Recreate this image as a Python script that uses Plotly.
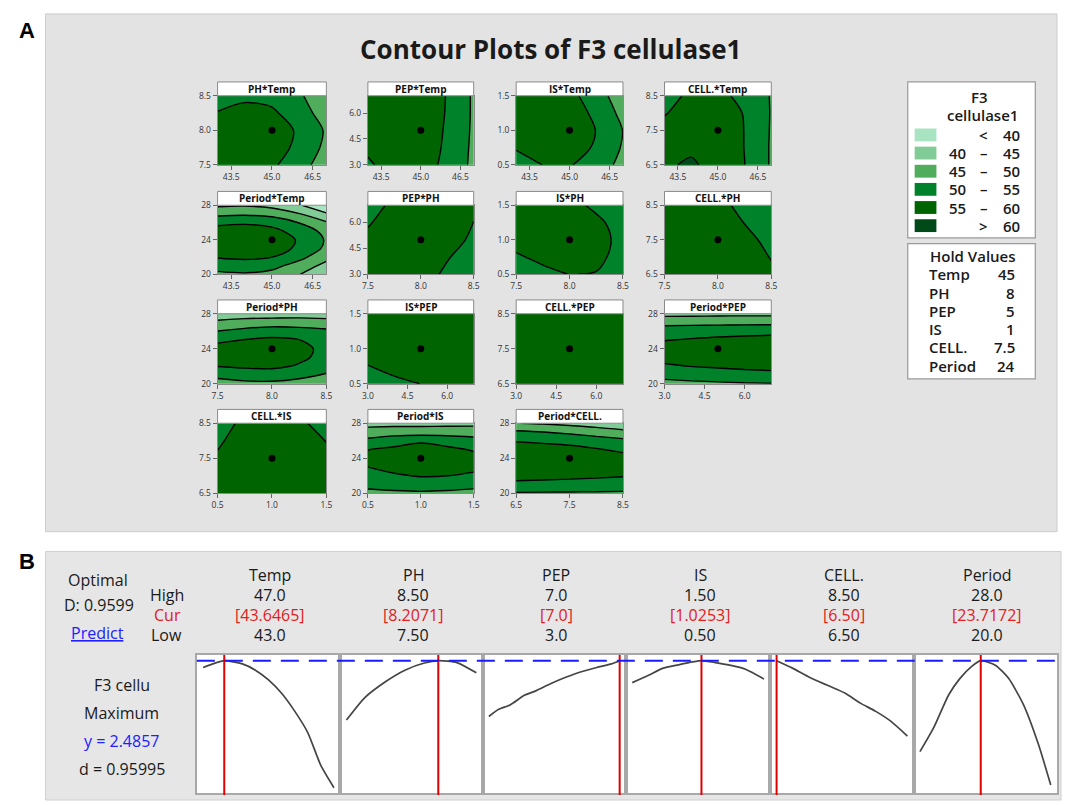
import plotly.graph_objects as go

W, H = 1067, 805

# ---------------- data: contour grids ----------------
TEMP_GRID = [43, 44, 45, 46, 47]
PH_GRID = [7.5, 7.75, 8.0, 8.25, 8.5]
PEP_GRID = [3, 4, 5, 6, 7]
IS_GRID = [0.5, 0.75, 1.0, 1.25, 1.5]
CELL_GRID = [6.5, 7.0, 7.5, 8.0, 8.5]
PERIOD_GRID = [20, 21, 22, 23, 24, 25, 26, 27, 28]

# rows = y-factor levels (low -> high), columns = x-factor levels
Z_PH_TEMP = [[57, 57.5, 55.8, 52.2, 47.2],
             [58.5, 58.5, 57.3, 53.8, 48.8],
             [59, 59, 58, 54.2, 49.4],
             [55.3, 56.5, 55.8, 52.5, 47.5],
             [52, 54, 53.5, 50.8, 46]]
Z_PEP_TEMP = [[54.5, 56.5, 56.8, 54.0, 48.8],
              [55.6, 57.5, 57.3, 54.3, 49.0],
              [57, 58.2, 57.6, 54.5, 49.2],
              [57.5, 58.5, 57.8, 54.7, 49.3],
              [57.5, 58.5, 57.9, 54.8, 49.3]]
Z_IS_TEMP = [[53.5, 55.05, 55.3, 53, 48.3],
             [55.3, 57, 57.2, 54.4, 49.5],
             [58, 58.3, 57.8, 54.9, 49.9],
             [57.5, 58, 57.3, 54, 48.5],
             [57, 57.5, 56.5, 52.2, 47.2]]
Z_CELL_TEMP = [[59.6, 60.4, 59, 55.05, 49.5],
               [58, 59.5, 58.5, 54.9, 49.5],
               [56.5, 58, 58, 54.9, 49.6],
               [54.7, 57, 57, 54.8, 49.7],
               [53.5, 55.8, 56.3, 53.6, 49.7]]
Z_PERIOD_TEMP = [[49, 49.5, 48.5, 45.2, 40.5],
                 [52, 52.5, 51.5, 48, 43.5],
                 [55.4, 56, 55.1, 51.5, 46.5],
                 [58, 58.5, 57.5, 54, 49],
                 [58.5, 59, 58, 54.5, 49.5],
                 [57, 57.5, 56.5, 53, 48.5],
                 [53.8, 54.3, 53.3, 49.8, 45.5],
                 [48.8, 49.2, 48.3, 45.2, 40.5],
                 [44.2, 44.5, 43.5, 40.5, 36]]
Z_PEP_PH = [[57, 57.5, 56.8, 54.2, 52],
            [56.8, 57.6, 57.3, 55.3, 53],
            [56, 57.5, 57.6, 56.3, 54.4],
            [54.6, 57, 57.8, 57, 54.95],
            [53.5, 55.8, 57.5, 57, 55.8]]
Z_IS_PH = [[51.5, 53.5, 55.1, 54.8, 52],
           [54.3, 56.3, 57, 56, 53.5],
           [57, 57.8, 57.8, 56.5, 53.8],
           [57.5, 58, 57.5, 56, 53],
           [57, 57.5, 56.5, 54, 52]]
Z_CELL_PH = [[58, 58.5, 58.5, 57.5, 55.8],
             [58, 58.5, 58, 57, 54.8],
             [58, 58, 57.5, 56, 54],
             [57.5, 57.5, 57, 54.9, 53],
             [57, 57, 56, 54, 52]]
Z_PERIOD_PH = [[48.5, 49, 49, 48, 45.5],
               [51, 52, 52.5, 51.5, 49.5],
               [55.1, 55.8, 56, 54.5, 52],
               [57, 57.8, 58, 56, 53.5],
               [57.2, 58, 58.2, 56.3, 53.8],
               [53.8, 55.2, 56, 55.1, 53],
               [50.1, 51.5, 52.5, 52, 51],
               [46, 47, 47.5, 47.5, 47],
               [42, 42.5, 42.5, 42.8, 42.5]]
Z_IS_PEP = [[52.5, 54, 55.05, 56.5, 57],
            [54.9, 56.3, 57.3, 57.8, 57.8],
            [56.5, 57.5, 58.2, 58.5, 58.3],
            [57, 57.8, 58.3, 58.3, 58],
            [57, 57.5, 58, 58, 57.5]]
Z_CELL_PEP = [[57.5, 58, 58.3, 58.5, 58.5],
              [57.3, 57.8, 58.2, 58.4, 58.4],
              [57, 57.6, 58, 58.2, 58.2],
              [56.5, 57.2, 57.7, 58, 58],
              [55.8, 56.8, 57.3, 57.6, 57.6]]
Z_PERIOD_PEP = [[48.5, 49, 49.3, 49.6, 49.8],
                [51.5, 52, 52.6, 53.1, 53.5],
                [54.3, 55.1, 55.6, 56.1, 56.5],
                [56.5, 57, 57.4, 57.7, 58],
                [57, 57.4, 57.8, 58.1, 58.3],
                [54.8, 55.4, 56, 56.4, 56.8],
                [52.5, 52.8, 53.1, 53.3, 53.5],
                [48.5, 48.6, 48.7, 48.8, 48.8],
                [43.5, 43.6, 43.7, 43.8, 43.8]]
Z_CELL_IS = [[56.5, 57.5, 58, 57.7, 56.8],
             [56, 57.3, 57.8, 57.5, 56.3],
             [55.4, 57, 57.5, 57.2, 55.8],
             [54.5, 56.5, 57.3, 56.7, 54.9],
             [53.5, 55.8, 57, 55.7, 53.5]]
Z_PERIOD_IS = [[48.8, 49.1, 49.3, 49, 48.5],
               [51.3, 52, 52.5, 52.2, 51.5],
               [53.5, 54.5, 55.3, 55.05, 54.3],
               [55.02, 56.3, 57.3, 56.8, 56],
               [55.8, 57, 58, 57.5, 56.5],
               [54.9, 56, 57, 56, 54.6],
               [51, 52.8, 54.3, 53, 51.5],
               [47.5, 47.8, 47.5, 47.8, 48],
               [43, 43.3, 43.5, 43.5, 43.5]]
Z_PERIOD_CELL = [[49.6, 49.5, 49.5, 49.4, 49.3],
                 [53.5, 53.3, 53.1, 52.8, 52.5],
                 [57, 56.6, 56.2, 55.8, 55.3],
                 [58.5, 58.1, 57.7, 57.1, 56.5],
                 [59, 58.6, 58.1, 57.5, 56.8],
                 [58, 57.3, 56.6, 55.4, 54],
                 [54.6, 54, 53.3, 52.3, 51.2],
                 [50.8, 50, 49, 47.7, 46.2],
                 [45.1, 44.5, 43.6, 42.6, 41.5]]

FACTORS = ["Temp", "PH", "PEP", "IS", "CELL.", "Period"]
GRIDS = [TEMP_GRID, PH_GRID, PEP_GRID, IS_GRID, CELL_GRID, PERIOD_GRID]
FACTOR_LOW = [43, 7.5, 3, 0.5, 6.5, 20]
FACTOR_HIGH = [47, 8.5, 7, 1.5, 8.5, 28]
HOLD_VALUES = [45, 8, 5, 1, 7.5, 24]
HOLD_TEXT = ["45", "8", "5", "1", "7.5", "24"]
TICK_VALS = [[43.5, 45.0, 46.5], [7.5, 8.0, 8.5], [3.0, 4.5, 6.0],
             [0.5, 1.0, 1.5], [6.5, 7.5, 8.5], [20, 24, 28]]
TICK_TEXT = [["43.5", "45.0", "46.5"], ["7.5", "8.0", "8.5"], ["3.0", "4.5", "6.0"],
             ["0.5", "1.0", "1.5"], ["6.5", "7.5", "8.5"], ["20", "24", "28"]]

# (title, x factor index, y factor index, z)
PANELS = [("PH*Temp", 0, 1, Z_PH_TEMP), ("PEP*Temp", 0, 2, Z_PEP_TEMP),
          ("IS*Temp", 0, 3, Z_IS_TEMP), ("CELL.*Temp", 0, 4, Z_CELL_TEMP),
          ("Period*Temp", 0, 5, Z_PERIOD_TEMP), ("PEP*PH", 1, 2, Z_PEP_PH),
          ("IS*PH", 1, 3, Z_IS_PH), ("CELL.*PH", 1, 4, Z_CELL_PH),
          ("Period*PH", 1, 5, Z_PERIOD_PH), ("IS*PEP", 2, 3, Z_IS_PEP),
          ("CELL.*PEP", 2, 4, Z_CELL_PEP), ("Period*PEP", 2, 5, Z_PERIOD_PEP),
          ("CELL.*IS", 3, 4, Z_CELL_IS), ("Period*IS", 3, 5, Z_PERIOD_IS),
          ("Period*CELL.", 4, 5, Z_PERIOD_CELL)]

LEVEL_LABELS = [("", "<", "40"), ("40", "\u2013", "45"), ("45", "\u2013", "50"),
                ("50", "\u2013", "55"), ("55", "\u2013", "60"), ("", ">", "60")]
LEVEL_COLORS = ["#a9e4c2", "#80cb96", "#4fad5c", "#00822a", "#006400", "#004a1a"]

# ---------------- data: optimization plot ----------------
HIGH_TXT = ["47.0", "8.50", "7.0", "1.50", "8.50", "28.0"]
CUR_TXT = ["[43.6465]", "[8.2071]", "[7.0]", "[1.0253]", "[6.50]", "[23.7172]"]
LOW_TXT = ["43.0", "7.50", "3.0", "0.50", "6.50", "20.0"]
CUR_VAL = [43.6465, 8.2071, 7.0, 1.0253, 6.50, 23.7172]
Y_OPT = 2.4857

CURVE_X = [
    [43.0, 43.3, 43.65, 44.2, 44.6, 45.0, 45.4, 45.8, 46.2, 46.6, 47.0],
    [7.5, 7.64, 7.8, 7.95, 8.1, 8.21, 8.35, 8.5],
    [3.0, 3.3, 3.65, 4.1, 4.45, 4.9, 5.35, 5.8, 6.3, 6.75, 7.0],
    [0.5, 0.62, 0.73, 0.85, 0.96, 1.03, 1.13, 1.24, 1.36, 1.5],
    [6.5, 6.75, 6.98, 7.26, 7.55, 7.78, 8.01, 8.24, 8.5],
    [20.0, 20.84, 21.76, 22.45, 23.13, 23.72, 24.61, 25.42, 26.33, 27.24, 28.0],
]
CURVE_Y = [
    [2.41, 2.45, 2.486, 2.45, 2.38, 2.27, 2.12, 1.92, 1.68, 1.31, 1.06],
    [1.82, 2.07, 2.25, 2.38, 2.46, 2.486, 2.465, 2.35],
    [1.86, 1.94, 1.99, 2.10, 2.15, 2.23, 2.30, 2.36, 2.41, 2.45, 2.486],
    [2.24, 2.32, 2.40, 2.44, 2.473, 2.486, 2.465, 2.436, 2.39, 2.28],
    [2.486, 2.40, 2.31, 2.215, 2.12, 2.01, 1.92, 1.81, 1.64],
    [1.465, 1.734, 2.104, 2.288, 2.417, 2.486, 2.436, 2.288, 1.993, 1.55, 1.09],
]

# ---------------- helpers ----------------
def PX(x):
    return x / W


def PY(y):
    return 1 - y / H


FONT = "Open Sans, Noto Sans, DejaVu Sans, sans-serif"
fig = go.Figure()
shapes = []
annotations = []
layout_axes = {}


def text(x, y, s, size, color="#1a1a1a", xanchor="center", weight=None, family=FONT):
    f = dict(size=size, color=color, family=family)
    if weight:
        f["weight"] = weight
    annotations.append(dict(x=PX(x), y=PY(y), xref="paper", yref="paper", text=s,
                            showarrow=False, xanchor=xanchor, yanchor="middle",
                            borderpad=0, font=f))


def rect(x0, y0, x1, y1, fill, line="rgba(0,0,0,0)", lw=1, layer="below"):
    shapes.append(dict(type="rect", xref="paper", yref="paper", x0=PX(x0), x1=PX(x1),
                       y0=PY(y1), y1=PY(y0), fillcolor=fill,
                       line=dict(color=line, width=lw), layer=layer))


# backgrounds
rect(40, 8, 1063, 533, "#e3e3e3", "#cccccc", 1)
rect(40, 553, 1067, 805, "#e6e6e6", "#d0d0d0", 1)

text(21, 25, "<b>A</b>", 22, "#000000", family="Liberation Sans, Arial, sans-serif")
text(21, 563, "<b>B</b>", 22, "#000000", family="Liberation Sans, Arial, sans-serif")
text(551, 44, "<b>Contour Plots of F3 cellulase1</b>", 26, "#1a1a1a")

# colorscale (stepped)
CS = []
for i, c in enumerate(LEVEL_COLORS):
    CS.append([i / 6, c])
    CS.append([(i + 1) / 6, c])

COLS = [(214, 324), (366, 473), (516, 624), (666, 774)]
ROWS = [(91, 161), (202, 272), (312, 383), (423, 494)]

for k, (title, xi, yi, z) in enumerate(PANELS):
    r, c = divmod(k, 4)
    x0, x1 = COLS[c]
    y0, y1 = ROWS[r]
    n = k + 1
    xa = "x" if n == 1 else f"x{n}"
    ya = "y" if n == 1 else f"y{n}"
    fig.add_trace(go.Contour(
        x=GRIDS[xi], y=GRIDS[yi], z=z, xaxis=xa, yaxis=ya,
        autocontour=False,
        contours=dict(start=40, end=60, size=5, coloring="fill", showlines=True),
        line=dict(color="black", width=1.4, smoothing=0.9),
        colorscale=CS, showscale=False, hoverinfo="skip"))
    fig.add_trace(go.Scatter(x=[HOLD_VALUES[xi]], y=[HOLD_VALUES[yi]], xaxis=xa, yaxis=ya,
                             mode="markers", marker=dict(color="black", size=7),
                             hoverinfo="skip", showlegend=False))
    common = dict(showline=True, mirror=True, linecolor="#8a8a8a", linewidth=1,
                  ticks="outside", ticklen=4, tickcolor="#666", showgrid=False,
                  zeroline=False, tickfont=dict(size=8.5, color="#333", family=FONT))
    layout_axes["xaxis" if n == 1 else f"xaxis{n}"] = dict(
        domain=[PX(x0), PX(x1)], range=[FACTOR_LOW[xi], FACTOR_HIGH[xi]],
        tickvals=TICK_VALS[xi], ticktext=TICK_TEXT[xi], anchor=ya, **common)
    layout_axes["yaxis" if n == 1 else f"yaxis{n}"] = dict(
        domain=[PY(y1), PY(y0)], range=[FACTOR_LOW[yi], FACTOR_HIGH[yi]],
        tickvals=TICK_VALS[yi], ticktext=TICK_TEXT[yi], anchor=xa, **common)
    # header
    rect(x0, y0 - 14, x1, y0, "#ffffff", "#8a8a8a", 1, layer="above")
    text((x0 + x1) / 2, y0 - 7, f"<b>{title}</b>", 10, "#111111")

# legend boxes
LF = 15
rect(912, 77, 1041, 235, "#ffffff", "#9a9a9a", 1.2)
rect(912, 241, 1041, 378, "#ffffff", "#9a9a9a", 1.2)
text(985, 92, "F3", LF, weight=600)
text(988, 111, "cellulase1", LF, weight=600)
for i, ((a, m, b), col) in enumerate(zip(LEVEL_LABELS, LEVEL_COLORS)):
    yc = 130.7 + 18.4 * i
    rect(919, yc - 6.5, 941, yc + 6.5, col)
    if a:
        text(962, yc, a, LF, weight=600)
    text(989, yc, m, LF, weight=600)
    text(1027, yc, b, LF, xanchor="right", weight=600)
text(978, 253, "Hold Values", LF, weight=600)
for i, (nm, hv) in enumerate(zip(FACTORS, HOLD_TEXT)):
    yc = 272 + 18.5 * i
    text(932, yc, nm, LF, xanchor="left", weight=600)
    text(1021, yc, hv, LF, xanchor="right", weight=600)

# ---------------- optimization plot (panel B) ----------------
BF = 16
BOX_X = [193, 338, 482, 627, 773, 918, 1063]
BOX_TOP, BOX_BOT = 658, 798
YR = [1.0, 2.55]
for j in range(6):
    rect(BOX_X[j], BOX_TOP, BOX_X[j + 1], BOX_BOT, "#ffffff")
for j in range(6):
    n = len(PANELS) + 1 + j
    xa, ya = f"x{n}", f"y{n}"
    lo, hi = FACTOR_LOW[j], FACTOR_HIGH[j]
    d = hi - lo
    layout_axes[f"xaxis{n}"] = dict(domain=[PX(BOX_X[j]), PX(BOX_X[j + 1])],
                                    range=[lo - 0.048 * d, hi + 0.048 * d], anchor=ya,
                                    showline=True, mirror=True, linecolor="#a8a8a8",
                                    linewidth=1.5, showticklabels=False, ticks="",
                                    showgrid=False, zeroline=False)
    layout_axes[f"yaxis{n}"] = dict(domain=[PY(BOX_BOT), PY(BOX_TOP)], range=YR, anchor=xa,
                                    showline=True, mirror=True, linecolor="#a8a8a8",
                                    linewidth=1.5, showticklabels=False, ticks="",
                                    showgrid=False, zeroline=False)
    fig.add_trace(go.Scatter(x=CURVE_X[j], y=CURVE_Y[j], xaxis=xa, yaxis=ya, mode="lines",
                             line=dict(color="#454545", width=1.7, shape="spline", smoothing=0.6),
                             hoverinfo="skip", showlegend=False))
    shapes.append(dict(type="line", xref=xa, yref="paper", x0=CUR_VAL[j], x1=CUR_VAL[j],
                       y0=PY(800), y1=PY(BOX_TOP), line=dict(color="#e00000", width=2),
                       layer="above"))
    cx = (BOX_X[j] + BOX_X[j + 1]) / 2 + 2
    text(cx, 577, FACTORS[j], BF)
    text(cx, 597, HIGH_TXT[j], BF)
    text(cx, 617.5, CUR_TXT[j], BF, "#e0201c")
    text(cx, 638, LOW_TXT[j], BF)

first_b = len(PANELS) + 1
shapes.append(dict(type="line", xref="paper", yref=f"y{first_b}", x0=PX(193), x1=PX(1063),
                   y0=Y_OPT, y1=Y_OPT, line=dict(color="#1a1aff", width=2, dash="18px,10px"),
                   layer="above"))

text(93, 582, "Optimal", BF)
text(94, 607, "D: 0.9599", BF)
text(93, 636, "<u>Predict</u>", BF, "#2020ff")
text(163, 597, "High", BF)
text(163, 617.5, "Cur", BF, "#e0201c")
text(162, 638, "Low", BF)
text(117, 688, "F3 cellu", BF)
text(117, 716.5, "Maximum", BF)
text(117, 745, "y = 2.4857", BF, "#2020ff")
text(117, 774, "d = 0.95995", BF)

fig.update_layout(width=W, height=H, margin=dict(l=0, r=0, t=0, b=0),
                  paper_bgcolor="white", plot_bgcolor="rgba(0,0,0,0)",
                  showlegend=False, shapes=shapes, annotations=annotations,
                  **layout_axes)
fig.write_html("out.html", config={"displayModeBar": False},
               post_script="document.body.style.margin='0px';document.body.style.padding='0px';"
                           "document.body.style.overflow='hidden';")
